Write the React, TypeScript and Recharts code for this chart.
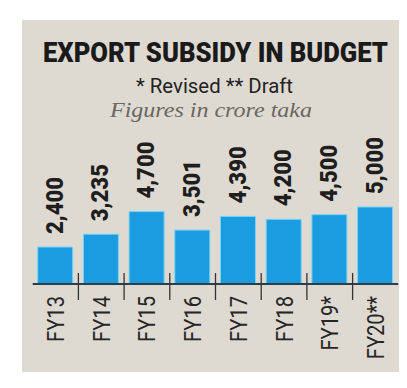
import React from 'react';
import { BarChart, Bar, XAxis, YAxis, LabelList } from 'recharts';

// export subsidy, crore taka
const years = ['FY13', 'FY14', 'FY15', 'FY16', 'FY17', 'FY18', 'FY19*', 'FY20**'];
const subsidy = [2400, 3235, 4700, 3501, 4390, 4200, 4500, 5000];

const data = years.map((year, i) => ({ year, value: subsidy[i] }));

const W = 407;
const H = 388;
const margin = { top: 207, right: 8.7, bottom: 24, left: 32.7 };
const band = (W - margin.left - margin.right) / years.length;

const YearTick = (props: any) => {
    const { x, y, payload } = props;
    const idx = props.index ?? payload.index;
    const last = idx === years.length - 1;
    return (
        <g>
            {!last && (
                <line x1={x + band / 2} x2={x + band / 2} y1={y - 11} y2={y + 16} stroke="#333" strokeWidth={1.3} />
            )}
            <text
                transform={`translate(${x + 8.5},${y + 12}) rotate(-90) scale(0.84,1)`}
                textAnchor="end"
                fontFamily="Roboto"
                fontSize={24}
                fill="#262626"
            >
                {payload.value}
            </text>
        </g>
    );
};

const ValueLabel = (props: any) => {
    const x = Number(props.x);
    const y = Number(props.y);
    const cx = x + Number(props.width) / 2;
    return (
        <text
            transform={`translate(${cx + 7.5},${y - 13}) rotate(-90) scale(0.92,1)`}
            textAnchor="start"
            fontFamily="Roboto"
            fontWeight={900}
            fontSize={24}
            fill="#1e1e1e"
        >
            {Number(props.value).toLocaleString('en-US')}
        </text>
    );
};

export default function App() {
    return (
        <div style={{ position: 'relative', width: W, height: H, margin: -8, background: '#fff', overflow: 'hidden' }}>
            <div style={{ position: 'absolute', left: 22, top: 20, width: 378, height: 352, background: '#dedad2' }} />
            <div style={{ position: 'absolute', left: 0, top: 0 }}>
                <BarChart width={W} height={H} data={data} margin={margin}>
                    <YAxis hide domain={[0, 5000]} />
                    <Bar dataKey="value" fill="#1b9ce0" stroke="#78d4f2" strokeWidth={1} barSize={35} isAnimationActive={false}>
                        <LabelList dataKey="value" content={ValueLabel} />
                    </Bar>
                    <XAxis
                        dataKey="year"
                        height={80}
                        interval={0}
                        tickLine={false}
                        tickSize={0}
                        tickMargin={0}
                        axisLine={{ stroke: '#2b3e4a', strokeWidth: 2 }}
                        tick={YearTick}
                    />
                </BarChart>
            </div>
            <svg width={W} height={140} style={{ position: 'absolute', left: 0, top: 0, pointerEvents: 'none' }}>
                <text x={215.5} y={62} textAnchor="middle" fontFamily="Roboto" fontWeight={900} fontSize={27} fill="#1a1a1a" textLength={345} lengthAdjust="spacingAndGlyphs">
                    EXPORT SUBSIDY IN BUDGET
                </text>
                <text x={214.5} y={93} textAnchor="middle" fontFamily="Roboto" fontSize={21} fill="#222" textLength={157} lengthAdjust="spacingAndGlyphs">
                    * Revised ** Draft
                </text>
                <text x={211} y={117} textAnchor="middle" fontFamily="Liberation Serif" fontStyle="italic" fontSize={20} fill="#6a6660" textLength={202} lengthAdjust="spacingAndGlyphs">
                    Figures in crore taka
                </text>
            </svg>
        </div>
    );
}
